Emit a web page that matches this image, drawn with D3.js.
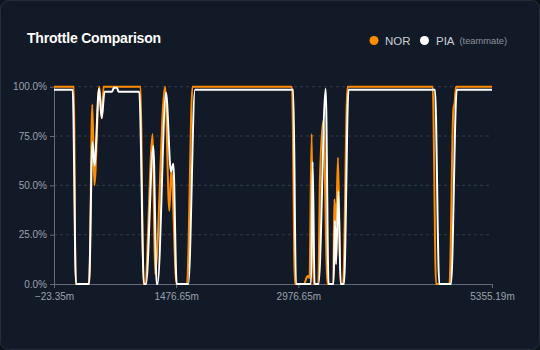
<!DOCTYPE html>
<html><head><meta charset="utf-8">
<script src="https://cdn.jsdelivr.net/npm/d3@7"></script>
<style>
html,body{margin:0;padding:0;background:#0c111a;}
svg{display:block;font-family:"Liberation Sans",Arial,Helvetica,sans-serif;}
</style></head>
<body>
<svg id="c" width="540" height="350"></svg>
<script>
// Distance (m) and throttle (%) for each driver
const norDist = [-23.35,222,241,410,447,472,533,566,585,1041,1073,1094,1189,1217,1340,1393,1417,1481,1610,1677,2899,2936,3047,3090,3114,3141,3161,3222,3243,3284,3335,3406,3419,3440,3464,3495,3526,3581,4627,4668,4833,4880,4897,4913,5355.19];
const norThr  = [100,100,0,0,91,50,100,84,100,100,0,0,76,5,100,37,58,0,0,100,100,0,0,4,3,76,0,0,54,83,0,0,43,30,64,0,0,100,100,0,0,88,92,100,100];
const piaDist = [-23.35,206,247,406,449,474,529,562,597,689,713,750,769,1024,1082,1106,1196,1238,1248,1352,1413,1442,1483,1626,1708,2915,2948,3133,3153,3176,3225,3313,3348,3409,3427,3440,3468,3497,3538,3593,4655,4708,4852,4922,5355.19];
const piaThr  = [98.5,98.5,0,0,72,60,99,84,97.5,97.5,99.5,99.5,97.5,97.5,0,0,70,0,0,97,57,61,0,0,98.5,98.5,0,0,62,0,0,99,0,0,32,10,47,0,0,98.5,98.5,0,0,98.5,98.5];
const xTicks = [-23.35,1476.65,2976.65,5355.19];
const yTicks = [0,25,50,75,100];
const seriesNames = ["NOR","PIA"];
const seriesColors = ["#ff8c00","#ffffff"];

const svg = d3.select("#c");
svg.append("rect").attr("x",0.5).attr("y",0.5).attr("width",539).attr("height",349)
  .attr("rx",8).attr("fill","#131a27").attr("stroke","#262e3c");

const x = d3.scaleLinear().domain([-23.35,5355.19]).range([54,492]);
const y = d3.scaleLinear().domain([0,100]).range([284,86.7]);

// grid
svg.append("g").selectAll("line").data(yTicks.filter(d=>d>0)).join("line")
  .attr("x1",54).attr("x2",492).attr("y1",d=>y(d)).attr("y2",d=>y(d))
  .attr("stroke","#323b4b").attr("stroke-dasharray","3,3").attr("stroke-width",1);

const axisColor="#626a78", textColor="#9aa1ad";
const gx = svg.append("g").attr("transform","translate(0,284)")
  .call(d3.axisBottom(x).tickValues(xTicks).tickFormat(d=>d3.format(".2f")(d)+"m").tickSize(4).tickSizeOuter(4));
const gy = svg.append("g").attr("transform","translate(54,0)")
  .call(d3.axisLeft(y).tickValues(yTicks).tickFormat(d=>d3.format(".1f")(d)+"%").tickSize(4).tickSizeOuter(0));
[gx,gy].forEach(g=>{
  g.selectAll("path,line").attr("stroke",axisColor);
  g.selectAll("text").attr("fill",textColor).attr("font-size",10).attr("font-family","Liberation Sans, Arial, sans-serif");
});
gx.selectAll("text").attr("dy","0.9em");

const line = d3.line().x(d=>x(d[0])).y(d=>y(d[1])).curve(d3.curveMonotoneX);
const norData = d3.zip(norDist,norThr), piaData = d3.zip(piaDist,piaThr);
svg.append("path").datum(norData).attr("d",line).attr("fill","none")
  .attr("stroke",seriesColors[0]).attr("stroke-width",2).attr("stroke-linejoin","round");
svg.append("path").datum(piaData).attr("d",line).attr("fill","none")
  .attr("stroke",seriesColors[1]).attr("stroke-width",2).attr("stroke-linejoin","round");

// title
svg.append("text").attr("x",27).attr("y",42.5).text("Throttle Comparison")
  .attr("fill","#ffffff").attr("font-size",14).attr("font-weight","bold").attr("letter-spacing","-0.2");

// legend
const lg = svg.append("g");
lg.append("circle").attr("cx",374).attr("cy",40.5).attr("r",4.5).attr("fill",seriesColors[0]);
lg.append("text").attr("x",385).attr("y",44.5).text(seriesNames[0]).attr("fill","#c9cdd5").attr("font-size",11.5);
lg.append("circle").attr("cx",424.5).attr("cy",40.5).attr("r",4.5).attr("fill",seriesColors[1]);
lg.append("text").attr("x",436).attr("y",44.5).text(seriesNames[1]).attr("fill","#c9cdd5").attr("font-size",11.5);
lg.append("text").attr("x",459.5).attr("y",44).text("(teammate)").attr("fill","#8b919c").attr("font-size",9.3);
</script>
</body></html>
